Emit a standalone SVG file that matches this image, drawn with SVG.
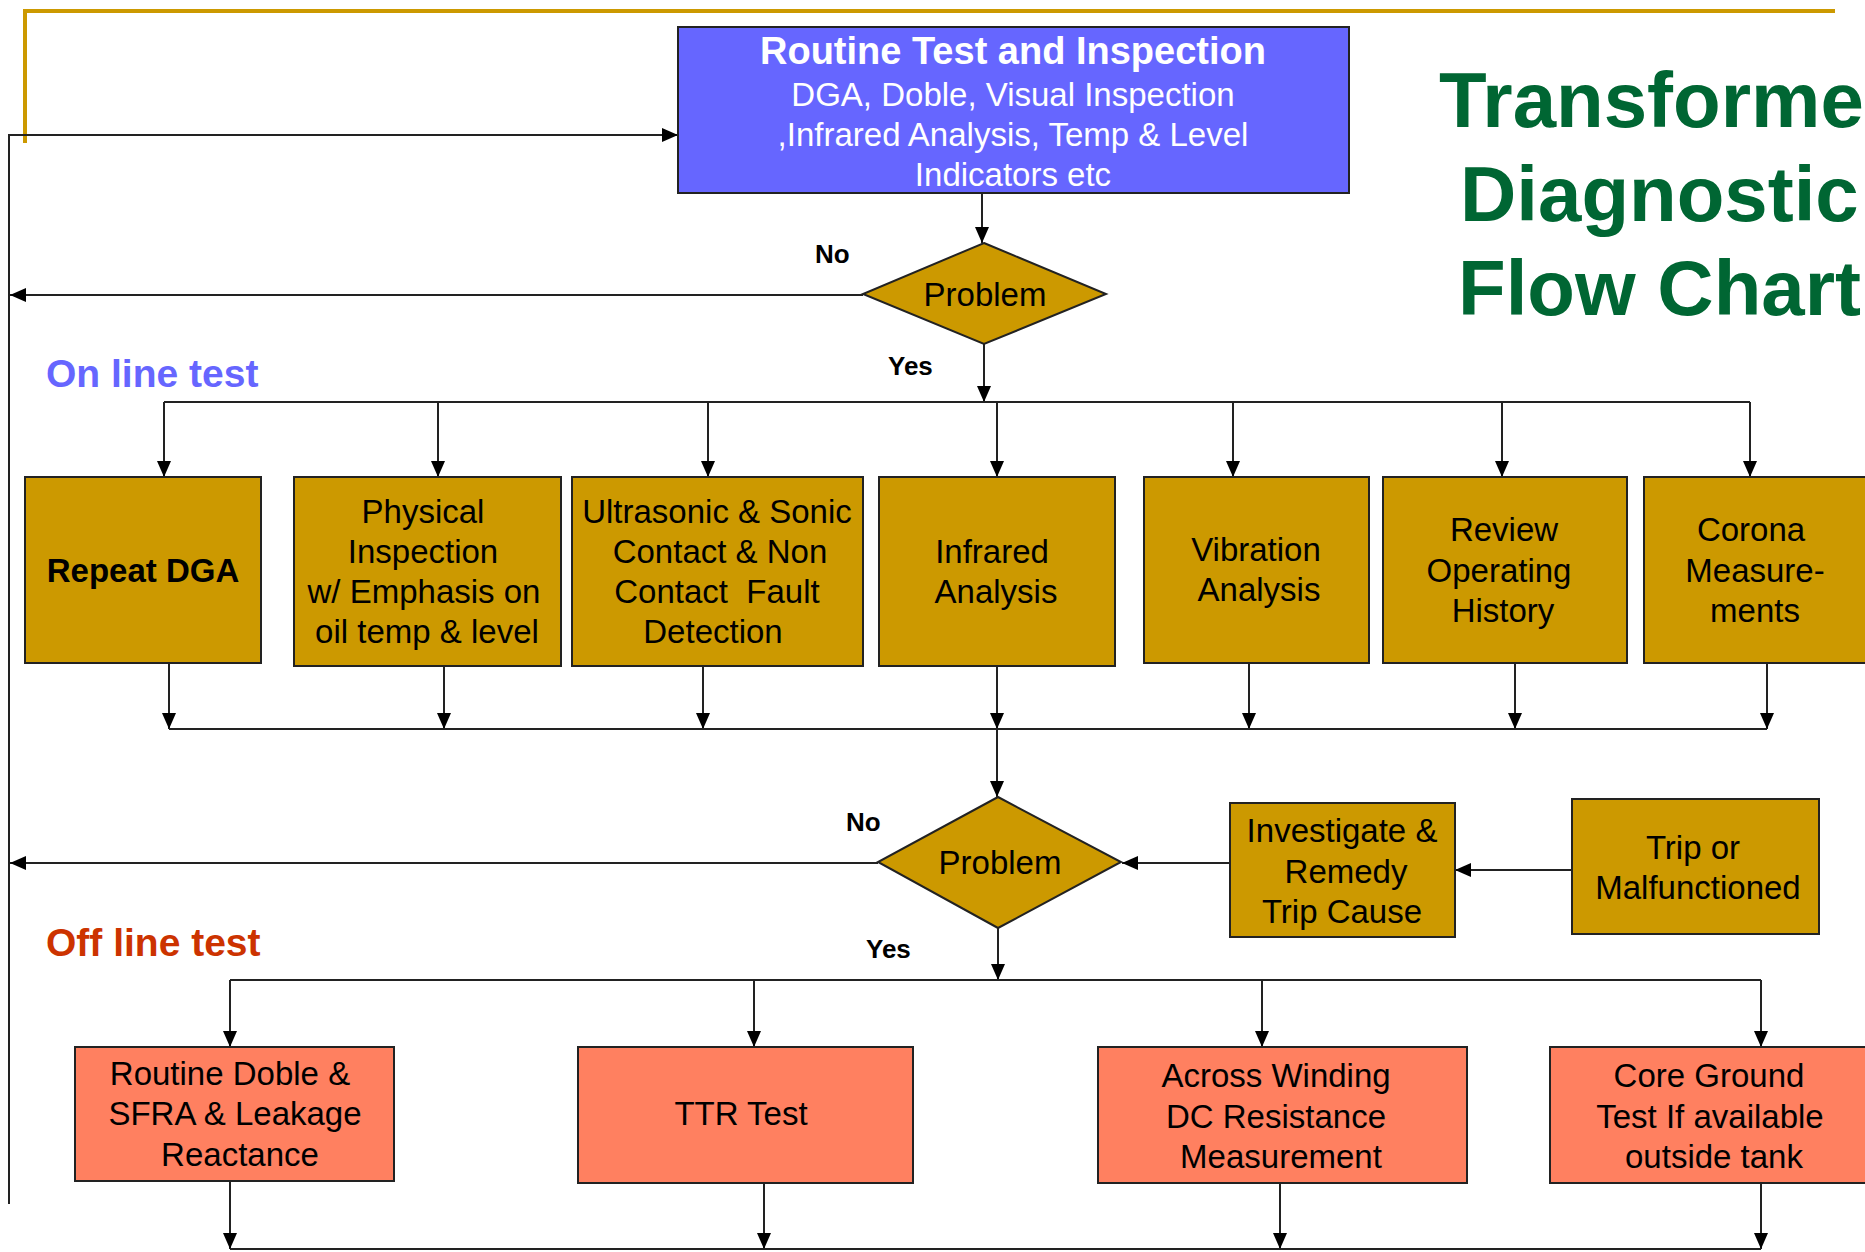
<svg xmlns="http://www.w3.org/2000/svg" width="1865" height="1252" viewBox="0 0 1865 1252">
<style>
text{font-family:"Liberation Sans",Arial,sans-serif;}
.c{stroke:#222;stroke-width:2;fill:none;}
.a{marker-end:url(#ah);}
.box{stroke:#222;stroke-width:2;}
.gold{fill:#CC9900;}
.sal{fill:#FF8060;}
.t{font-size:33px;fill:#000;text-anchor:middle;}
.lbl{font-size:26px;font-weight:bold;fill:#000;}
.sec{font-size:39px;font-weight:bold;}
.ttl{font-size:78px;font-weight:bold;fill:#006633;}
</style>
<defs>
<marker id="ah" markerUnits="userSpaceOnUse" markerWidth="16" markerHeight="14" refX="16" refY="7" orient="auto">
<path d="M0,0 L16,7 L0,14 z" fill="#000"/>
</marker>
</defs>
<rect width="1865" height="1252" fill="#fff"/>
<polyline points="25,143 25,11 1835,11" fill="none" stroke="#CC9900" stroke-width="4"/>

<g id="title">
<text class="ttl" x="1439" y="127">Transformer</text>
<text class="ttl" x="1460" y="221">Diagnostic</text>
<text class="ttl" x="1458" y="315">Flow Chart</text>
</g>
<g id="section-labels">
<text class="sec" x="46" y="387" fill="#6666FF">On line test</text>
<text class="sec" x="46" y="956" fill="#CC3300">Off line test</text>
</g>

<g id="connectors">
<polyline class="c a" points="9,1204 9,135 678,135"/>
<line class="c a" x1="982" y1="193" x2="982" y2="243"/>
<line class="c a" x1="863" y1="295" x2="10" y2="295"/>
<line class="c a" x1="984" y1="344" x2="984" y2="402"/>
<line class="c" x1="164" y1="402" x2="1750" y2="402"/>
<line class="c a" x1="164" y1="402" x2="164" y2="477"/>
<line class="c a" x1="438" y1="402" x2="438" y2="477"/>
<line class="c a" x1="708" y1="402" x2="708" y2="477"/>
<line class="c a" x1="997" y1="402" x2="997" y2="477"/>
<line class="c a" x1="1233" y1="402" x2="1233" y2="477"/>
<line class="c a" x1="1502" y1="402" x2="1502" y2="477"/>
<line class="c a" x1="1750" y1="402" x2="1750" y2="477"/>
<line class="c a" x1="169" y1="663" x2="169" y2="729"/>
<line class="c a" x1="444" y1="666" x2="444" y2="729"/>
<line class="c a" x1="703" y1="666" x2="703" y2="729"/>
<line class="c a" x1="997" y1="666" x2="997" y2="729"/>
<line class="c a" x1="1249" y1="663" x2="1249" y2="729"/>
<line class="c a" x1="1515" y1="663" x2="1515" y2="729"/>
<line class="c a" x1="1767" y1="663" x2="1767" y2="729"/>
<line class="c" x1="169" y1="729" x2="1767" y2="729"/>
<line class="c a" x1="997" y1="729" x2="997" y2="797"/>
<line class="c a" x1="878" y1="863" x2="10" y2="863"/>
<line class="c a" x1="1230" y1="863" x2="1122" y2="863"/>
<line class="c a" x1="1572" y1="870" x2="1455" y2="870"/>
<line class="c a" x1="998" y1="928" x2="998" y2="980"/>
<line class="c" x1="230" y1="980" x2="1761" y2="980"/>
<line class="c a" x1="230" y1="980" x2="230" y2="1047"/>
<line class="c a" x1="754" y1="980" x2="754" y2="1047"/>
<line class="c a" x1="1262" y1="980" x2="1262" y2="1047"/>
<line class="c a" x1="1761" y1="980" x2="1761" y2="1047"/>
<line class="c a" x1="230" y1="1181" x2="230" y2="1249"/>
<line class="c a" x1="764" y1="1183" x2="764" y2="1249"/>
<line class="c a" x1="1280" y1="1183" x2="1280" y2="1249"/>
<line class="c a" x1="1761" y1="1183" x2="1761" y2="1249"/>
<line class="c" x1="230" y1="1249" x2="1761" y2="1249"/>
<text class="lbl" x="815" y="263">No</text>
<text class="lbl" x="888" y="375">Yes</text>
<text class="lbl" x="846" y="831">No</text>
<text class="lbl" x="866" y="958">Yes</text>
</g>

<g id="routine">
<rect class="box" x="678" y="27" width="671" height="166" fill="#6666FF"/>
<text x="1013" y="64" font-size="38" font-weight="bold" fill="#fff" text-anchor="middle">Routine Test and Inspection</text>
<text x="1013" y="106" font-size="33" fill="#fff" text-anchor="middle">DGA, Doble, Visual Inspection</text>
<text x="1013" y="146" font-size="33" fill="#fff" text-anchor="middle">,Infrared Analysis, Temp &amp; Level</text>
<text x="1013" y="186" font-size="33" fill="#fff" text-anchor="middle">Indicators etc</text>
</g>

<g id="problem1">
<polygon class="box gold" points="984,243 1106,294 984,344 863,294"/>
<text class="t" x="985" y="306">Problem</text>
</g>

<g id="repeat-dga">
<rect class="box gold" x="25" y="477" width="236" height="186"/>
<text class="t" x="143" y="582" font-weight="bold">Repeat DGA</text>
</g>
<g id="physical">
<rect class="box gold" x="294" y="477" width="267" height="189"/>
<text class="t" x="423" y="523">Physical</text>
<text class="t" x="423" y="563">Inspection</text>
<text class="t" x="424" y="603">w/ Emphasis on</text>
<text class="t" x="427" y="643">oil temp &amp; level</text>
</g>
<g id="ultrasonic">
<rect class="box gold" x="572" y="477" width="291" height="189"/>
<text class="t" x="717" y="523">Ultrasonic &amp; Sonic</text>
<text class="t" x="720" y="563">Contact &amp; Non</text>
<text class="t" x="717" y="603" xml:space="preserve">Contact  Fault</text>
<text class="t" x="713" y="643">Detection</text>
</g>
<g id="infrared">
<rect class="box gold" x="879" y="477" width="236" height="189"/>
<text class="t" x="992" y="563">Infrared</text>
<text class="t" x="996" y="603">Analysis</text>
</g>
<g id="vibration">
<rect class="box gold" x="1144" y="477" width="225" height="186"/>
<text class="t" x="1256" y="561">Vibration</text>
<text class="t" x="1259" y="601">Analysis</text>
</g>
<g id="review">
<rect class="box gold" x="1383" y="477" width="244" height="186"/>
<text class="t" x="1504" y="541">Review</text>
<text class="t" x="1499" y="582">Operating</text>
<text class="t" x="1503" y="622">History</text>
</g>
<g id="corona">
<rect class="box gold" x="1644" y="477" width="240" height="186"/>
<text class="t" x="1751" y="541">Corona</text>
<text class="t" x="1755" y="582">Measure-</text>
<text class="t" x="1755" y="622">ments</text>
</g>

<g id="problem2">
<polygon class="box gold" points="998,797 1121,862 998,928 878,862"/>
<text class="t" x="1000" y="874">Problem</text>
</g>
<g id="investigate">
<rect class="box gold" x="1230" y="803" width="225" height="134"/>
<text class="t" x="1342" y="842">Investigate &amp;</text>
<text class="t" x="1346" y="883">Remedy</text>
<text class="t" x="1342" y="923">Trip Cause</text>
</g>
<g id="trip">
<rect class="box gold" x="1572" y="799" width="247" height="135"/>
<text class="t" x="1693" y="859">Trip or</text>
<text class="t" x="1698" y="899">Malfunctioned</text>
</g>

<g id="doble">
<rect class="box sal" x="75" y="1047" width="319" height="134"/>
<text class="t" x="230" y="1085">Routine Doble &amp;</text>
<text class="t" x="235" y="1125">SFRA &amp; Leakage</text>
<text class="t" x="240" y="1166">Reactance</text>
</g>
<g id="ttr">
<rect class="box sal" x="578" y="1047" width="335" height="136"/>
<text class="t" x="741" y="1125">TTR Test</text>
</g>
<g id="dc-resistance">
<rect class="box sal" x="1098" y="1047" width="369" height="136"/>
<text class="t" x="1276" y="1087">Across Winding</text>
<text class="t" x="1276" y="1128">DC Resistance</text>
<text class="t" x="1281" y="1168">Measurement</text>
</g>
<g id="core-ground">
<rect class="box sal" x="1550" y="1047" width="330" height="136"/>
<text class="t" x="1709" y="1087">Core Ground</text>
<text class="t" x="1710" y="1128">Test If available</text>
<text class="t" x="1714" y="1168">outside tank</text>
</g>
</svg>
